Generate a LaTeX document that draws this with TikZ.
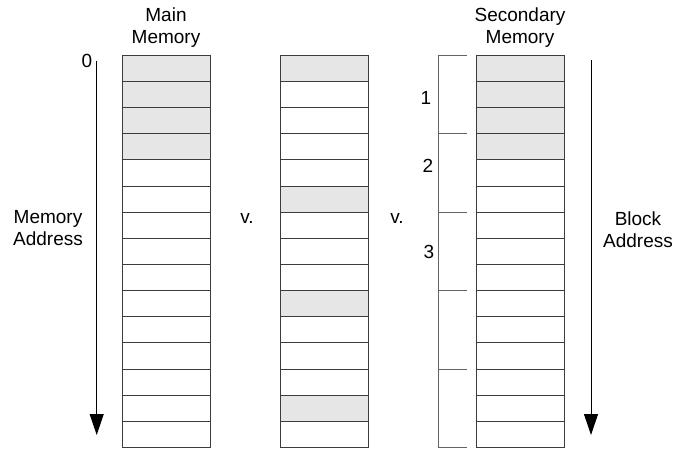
\documentclass[tikz,border=0pt]{standalone}
\usepackage{fontspec}
\setmainfont{Liberation Sans}
\usepackage{xcolor}
\usetikzlibrary{arrows.meta}
\definecolor{shade}{RGB}{230,230,230}
\definecolor{edge}{RGB}{60,60,60}

\begin{document}
\begin{tikzpicture}[x=1pt, y=-1pt,
    cell/.style={draw=edge, line width=1pt, minimum width=88pt, minimum height=26.15pt, inner sep=0pt, outer sep=0pt},
    lbl/.style={font=\fontsize{19}{22}\selectfont, align=center, inner sep=0pt},
    addr/.style={-{Triangle[length=21pt, width=14pt]}, line width=1pt},
    brk/.style={draw=edge!80, line width=1pt},
]
\useasboundingbox (0,0) rectangle (674,449);

\node[lbl] (mmtitle) at (166,27.5) {Main\\Memory};
\node[lbl] (smtitle) at (520,27.5) {Secondary\\Memory};

\foreach \i in {0,...,14} {
  \pgfmathsetmacro\y{55.3+26.15*(\i+0.5)}
  \pgfmathtruncatemacro\mf{(\i<4)*100}
  \pgfmathtruncatemacro\vf{(\i==0||\i==5||\i==9||\i==13)*100}
  \node[cell, fill=shade!\mf!white] (mm\i) at (166,\y) {};
  \node[cell, fill=shade!\vf!white] (vm\i) at (324.6,\y) {};
  \node[cell, fill=shade!\mf!white] (sm\i) at (520,\y) {};
}

\coordinate (ma0) at (96.7,61);
\coordinate (ma1) at (96.7,435);
\draw[addr] (ma0) -- (ma1);
\node[lbl] (zero) at (87,61) {0};
\node[lbl] (maddr) at (48,228) {Memory\\Address};

\node[lbl] (vs1) at (247,218) {v.};
\node[lbl] (vs2) at (397,218) {v.};

\foreach \k in {0,...,5}
  \coordinate (b\k) at (438.3,{55.3+78.45*\k});
\draw[brk] (b0) -- (b5);
\foreach \k in {0,...,5}
  \draw[brk] (b\k) -- ++(28.2,0);
\node[lbl] (blk1) at (426,98) {1};
\node[lbl] (blk2) at (428,166) {2};
\node[lbl] (blk3) at (429,251.5) {3};

\coordinate (ba0) at (591,60);
\coordinate (ba1) at (591,435);
\draw[addr] (ba0) -- (ba1);
\node[lbl] (baddr) at (638,230) {Block\\Address};
\end{tikzpicture}
\end{document}
